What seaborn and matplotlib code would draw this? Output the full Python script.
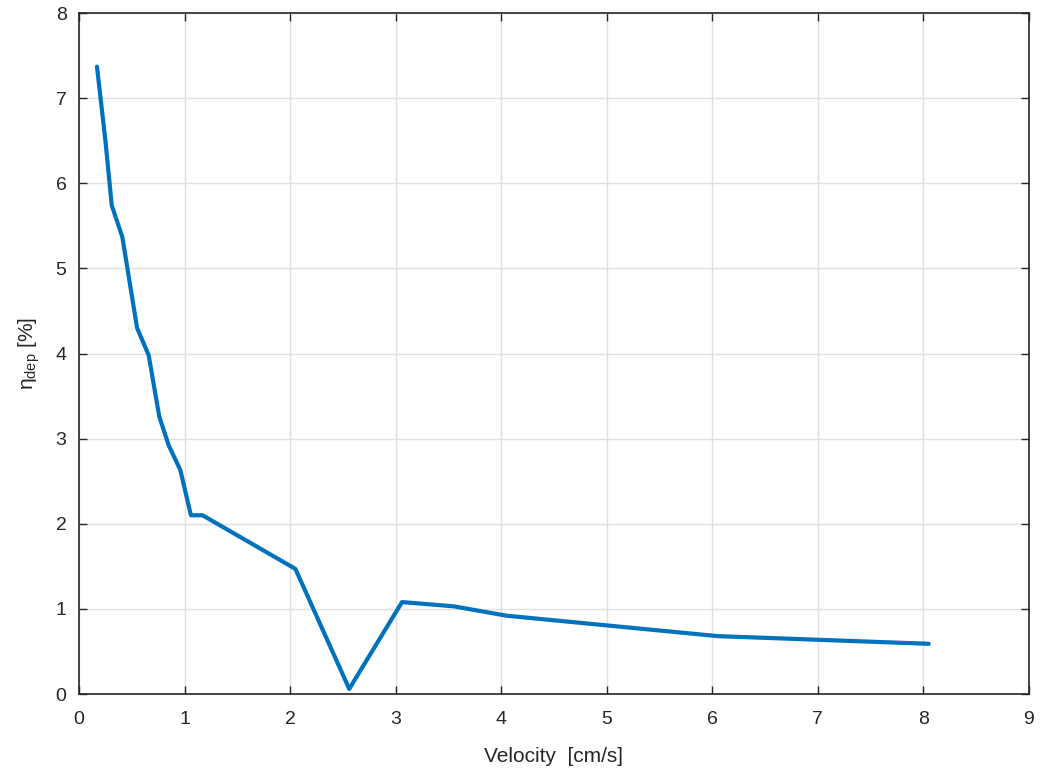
import numpy as np
import pandas as pd
import matplotlib
matplotlib.use("Agg")
import matplotlib.pyplot as plt
import seaborn as sns

sns.set_theme(style="ticks")
plt.rcParams['font.family'] = ['Liberation Sans', 'DejaVu Sans']
plt.rcParams['mathtext.fontset'] = 'custom'
plt.rcParams['mathtext.rm'] = 'Liberation Sans'

# data
velocity = [0.17, 0.25, 0.31, 0.41, 0.55, 0.66, 0.76, 0.85, 0.96, 1.06, 1.17,
            2.05, 2.56, 3.06, 3.55, 4.05, 6.05, 8.05]
eta_dep = [7.37, 6.50, 5.74, 5.37, 4.30, 3.98, 3.26, 2.92, 2.63, 2.10, 2.10,
           1.47, 0.06, 1.08, 1.03, 0.92, 0.68, 0.59]
x_ticks = list(range(0, 10))
y_ticks = list(range(0, 9))

df = pd.DataFrame({'Velocity': velocity, 'eta': eta_dep})

fig = plt.figure(figsize=(10.44, 7.79), dpi=100)
ax = fig.add_axes([0.0757, 0.1091, 0.9099, 0.8742])

sns.lineplot(data=df, x='Velocity', y='eta', ax=ax, color='#0072BD',
             linewidth=3, sort=False, estimator=None)

ax.set_xlim(0, 9)
ax.set_ylim(0, 8)
ax.set_xticks(x_ticks)
ax.set_yticks(y_ticks)
ax.grid(True, color='#e0e0e0', linewidth=1)
ax.set_axisbelow(True)

for s in ax.spines.values():
    s.set_visible(True)
    s.set_color('#262626')
    s.set_linewidth(1.2)

ax.tick_params(direction='in', top=True, right=True, length=6, width=1,
               colors='#262626', labelsize=14, labelcolor='#262626')
ax.tick_params(axis='x', pad=12)
ax.tick_params(axis='y', pad=9)

ax.set_xlabel('Velocity  [cm/s]', fontsize=15, color='#262626', labelpad=14)
ax.set_ylabel(r'η$_{\mathrm{dep}}$ [%]', fontsize=15, color='#262626', labelpad=10)

fig.savefig('out.png', dpi=100)
